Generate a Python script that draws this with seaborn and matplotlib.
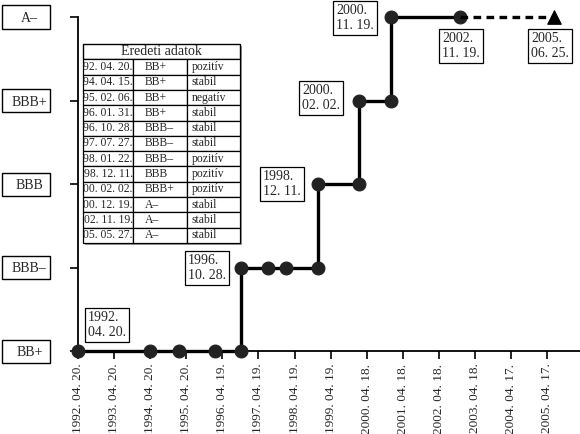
import matplotlib
matplotlib.use("Agg")
import matplotlib.pyplot as plt
import matplotlib.transforms as mtransforms
from matplotlib.patches import Rectangle
import seaborn as sns
import pandas as pd

# ---------------- data ----------------
rating_levels = ["BB+", "BBB–", "BBB", "BBB+", "A–"]

event_dates = ["1992-04-20", "1994-04-15", "1995-02-06", "1996-01-31",
               "1996-10-28", "1997-07-27", "1998-01-22", "1998-12-11",
               "2000-02-02", "2000-12-19", "2002-11-19"]
event_ratings = ["BB+", "BB+", "BB+", "BB+", "BBB–", "BBB–", "BBB–",
                 "BBB", "BBB+", "A–", "A–"]

forecast_date = "2005-06-25"
forecast_rating = "A–"

tick_dates = ["1992-04-20", "1993-04-20", "1994-04-20", "1995-04-20",
              "1996-04-19", "1997-04-19", "1998-04-19", "1999-04-19",
              "2000-04-18", "2001-04-18", "2002-04-18", "2003-04-18",
              "2004-04-17", "2005-04-17"]
tick_labels = ["1992. 04. 20.", "1993. 04. 20.", "1994. 04. 20.",
               "1995. 04. 20.", "1996. 04. 19.", "1997. 04. 19.",
               "1998. 04. 19.", "1999. 04. 19.", "2000. 04. 18.",
               "2001. 04. 18.", "2002. 04. 18.", "2003. 04. 18.",
               "2004. 04. 17.", "2005. 04. 17."]

annot_labels = ["1992.\n04. 20.", "1996.\n10. 28.", "1998.\n12. 11.",
                "2000.\n02. 02.", "2000.\n11. 19.", "2002.\n11. 19.",
                "2005.\n06. 25."]

table_title = "Eredeti adatok"
table_dates = ["92. 04. 20.", "94. 04. 15.", "95. 02. 06.", "96. 01. 31.",
               "96. 10. 28.", "97. 07. 27.", "98. 01. 22.", "98. 12. 11.",
               "00. 02. 02.", "00. 12. 19.", "02. 11. 19.", "05. 05. 27."]
table_ratings = ["BB+", "BB+", "BB+", "BB+", "BBB–", "BBB–", "BBB–", "BBB",
                 "BBB+", "A–", "A–", "A–"]
table_outlooks = ["pozitív", "stabil", "negatív", "stabil", "stabil",
                  "stabil", "pozitív", "pozitív", "pozitív", "stabil",
                  "stabil", "stabil"]

# ---------------- build step path from the events ----------------
path_x, path_y = [], []
prev = None
for d, r in zip(event_dates, event_ratings):
    v = rating_levels.index(r)
    if prev is not None and v != prev:
        path_x.append(pd.Timestamp(d))
        path_y.append(prev)
    path_x.append(pd.Timestamp(d))
    path_y.append(v)
    prev = v
step_df = pd.DataFrame({"date": path_x, "level": path_y})

fc_df = pd.DataFrame({
    "date": [pd.Timestamp(event_dates[-1]), pd.Timestamp(forecast_date)],
    "level": [rating_levels.index(event_ratings[-1]),
              rating_levels.index(forecast_rating)],
})

# ---------------- style ----------------
sns.set_style("ticks")
plt.rcParams["font.family"] = ["Liberation Serif", "DejaVu Serif"]

W, H = 580, 434
fig = plt.figure(figsize=(W / 100, H / 100), dpi=100)
AX_L, AX_R, AX_T, AX_B = 78, 580, 17, 351
AW, AH = AX_R - AX_L, AX_B - AX_T
ax = fig.add_axes([AX_L / W, (H - AX_B) / H, AW / W, AH / H])

# main step line
sns.lineplot(data=step_df, x="date", y="level", sort=False, estimator=None,
             ax=ax, color="black", linewidth=2.4, marker="o", markersize=9.3,
             markerfacecolor="#222222", markeredgecolor="#222222",
             clip_on=False, zorder=3)
# forecast dashed line
sns.lineplot(data=fc_df, x="date", y="level", sort=False, estimator=None,
             ax=ax, color="black", linewidth=2.4,
             linestyle=(0, (2.3, 1.6)), clip_on=False, zorder=3)
sns.scatterplot(data=fc_df.iloc[[1]], x="date", y="level", ax=ax,
                marker="^", s=95, color="black", edgecolor="black",
                clip_on=False, zorder=4)

# axes limits / ticks
ax.set_xlim(pd.Timestamp(tick_dates[0]), pd.Timestamp("2006-03-15"))
ax.set_ylim(0, len(rating_levels) - 1)
ax.set_xticks([pd.Timestamp(t) for t in tick_dates])
ax.set_xticklabels(tick_labels, rotation=90, fontsize=9.5, va="top", ha="center")
ax.set_yticks(range(len(rating_levels)))
ax.set_yticklabels(rating_levels, fontsize=10, ha="center")
ax.tick_params(axis="x", direction="out", length=6, width=1.2, pad=3, color="black")
ax.tick_params(axis="y", direction="out", length=6, width=1.2, pad=29, color="black")
ax.set_xlabel("")
ax.set_ylabel("")
for s in ["top", "right"]:
    ax.spines[s].set_visible(False)
for s in ["left", "bottom"]:
    ax.spines[s].set_color("black")
    ax.spines[s].set_linewidth(1.3)
ax.grid(False)

# y-label boxes (equal width, figure-x / data-y)
blend = mtransforms.blended_transform_factory(fig.transFigure, ax.transData)
px_per_unit = AH / (len(rating_levels) - 1)
box_h = 23 / px_per_unit
for i in range(len(rating_levels)):
    ax.add_patch(Rectangle((2 / W, i - box_h / 2), 48 / W, box_h,
                           transform=blend, facecolor="white",
                           edgecolor="black", linewidth=1.0,
                           clip_on=False, zorder=0))

# annotation boxes (layout in pixels)
annot_pos = [(88, 325), (188, 268), (263, 184), (302, 98),
             (336, 18), (442, 46), (531, 46)]
for lab, (px, py) in zip(annot_labels, annot_pos):
    fig.text(px / W, 1 - py / H, lab, ha="left", va="center", fontsize=10,
             linespacing=1.15,
             bbox=dict(boxstyle="square,pad=0.25", facecolor="white",
                       edgecolor="black", linewidth=0.9), zorder=5)

# table (pixel layout converted to axes fractions)
def px_box(x0, y_top, x1, y_bot):
    return [(x0 - AX_L) / AW, (AX_B - y_bot) / AH, (x1 - x0) / AW, (y_bot - y_top) / AH]

tx0, ty_top, tx1, ty_bot = 83, 44, 240, 243
row_h = (ty_bot - ty_top) / (len(table_dates) + 1)
head_bbox = px_box(tx0, ty_top, tx1, ty_top + row_h)
body_bbox = px_box(tx0, ty_top + row_h, tx1, ty_bot)
full_bbox = px_box(tx0, ty_top, tx1, ty_bot)

# shadow
ax.add_patch(Rectangle((full_bbox[0] + 2 / AW, full_bbox[1] - 2 / AH),
                       full_bbox[2], full_bbox[3], transform=ax.transAxes,
                       facecolor="#9a9a9a", edgecolor="none", clip_on=False,
                       zorder=5))

head = ax.table(cellText=[[table_title]], bbox=head_bbox, cellLoc="center")
head.auto_set_font_size(False)
head.set_fontsize(10)
head.set_zorder(6)
for cell in head.get_celld().values():
    cell.set_facecolor("white")
    cell.set_edgecolor("black")
    cell.set_linewidth(1.0)

body_text = [list(r) for r in zip(table_dates, table_ratings, table_outlooks)]
table = ax.table(cellText=body_text, colWidths=[0.32, 0.34, 0.34],
                 bbox=body_bbox, cellLoc="left")
table.auto_set_font_size(False)
table.set_fontsize(8.4)
table.set_zorder(6)
for (r, c), cell in table.get_celld().items():
    cell.set_facecolor("white")
    cell.set_edgecolor("black")
    cell.set_linewidth(0.9)
    txt = cell.get_text()
    if c == 0:
        txt.set_ha("center")
    elif c == 1:
        cell.PAD = 0.22
    else:
        cell.PAD = 0.1

fig.savefig("out.png", dpi=100)
